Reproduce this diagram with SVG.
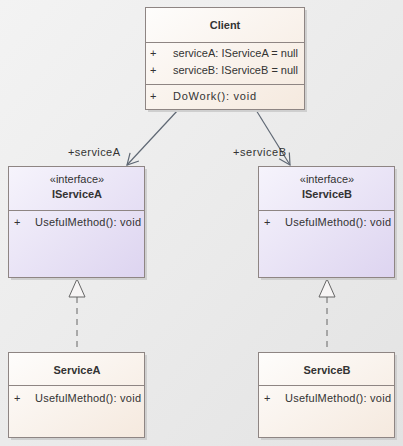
<svg xmlns="http://www.w3.org/2000/svg" width="403" height="446" viewBox="0 0 403 446">
<defs>
<linearGradient id="bg" x1="0" y1="0" x2="1" y2="1">
<stop offset="0" stop-color="#f3f3f3"/><stop offset="1" stop-color="#e3e3e3"/>
</linearGradient>
<linearGradient id="cls" x1="0" y1="0" x2="1" y2="1">
<stop offset="0" stop-color="#fefdfc"/><stop offset="1" stop-color="#f5e9de"/>
</linearGradient>
<linearGradient id="ifc" x1="0" y1="0" x2="1" y2="1">
<stop offset="0" stop-color="#f6f4fc"/><stop offset="1" stop-color="#ddd4f0"/>
</linearGradient>
<marker id="open" markerWidth="14" markerHeight="14" refX="12" refY="7" orient="auto" markerUnits="userSpaceOnUse">
<path d="M1,1 L12,7 L1,13" fill="none" stroke="#5f6874" stroke-width="1.2"/>
</marker>
</defs>
<style>
.box{stroke:#8e8583;stroke-width:1}
.sh{fill:#cfcfcf}
.div{stroke:#8e8583;stroke-width:1}
text{font-family:"Liberation Sans",Arial,sans-serif;font-size:11px;fill:#333}
.b{font-weight:bold;text-anchor:middle}
.c{text-anchor:middle}
.con{stroke:#5f6874;stroke-width:1.2;fill:none}
</style>
<rect width="403" height="446" fill="url(#bg)"/>
<g id="connectors">
<line class="con" x1="178" y1="110" x2="127" y2="165" marker-end="url(#open)"/>
<line class="con" x1="256" y1="110" x2="290" y2="165" marker-end="url(#open)"/>
<text x="68" y="156" textLength="52">+serviceA</text>
<text x="233" y="156" textLength="53">+serviceB</text>
<line x1="77" y1="297" x2="77" y2="352" stroke="#666" stroke-width="1" stroke-dasharray="6,5"/>
<polygon points="77,279 69,297 85,297" fill="#f7f5f5" stroke="#666" stroke-width="1"/>
<line x1="327" y1="297" x2="327" y2="352" stroke="#666" stroke-width="1" stroke-dasharray="6,5"/>
<polygon points="327,279 319,297 335,297" fill="#f7f5f5" stroke="#666" stroke-width="1"/>
</g>
<g id="Client">
<rect class="sh" x="148" y="10" width="159" height="102"/>
<rect class="box" x="145.5" y="7.5" width="159" height="102" fill="url(#cls)"/>
<line class="div" x1="145.5" y1="42.5" x2="304.5" y2="42.5"/>
<line class="div" x1="145.5" y1="84.5" x2="304.5" y2="84.5"/>
<text class="b" x="225" y="29">Client</text>
<text x="150" y="57">+</text><text x="173" y="57" textLength="125">serviceA: IServiceA = null</text>
<text x="150" y="74">+</text><text x="173" y="74" textLength="125">serviceB: IServiceB = null</text>
<text x="150" y="100">+</text><text x="173" y="100" textLength="83">DoWork(): void</text>
</g>
<g id="IServiceA">
<rect class="sh" x="11" y="169" width="136" height="111"/>
<rect class="box" x="8.5" y="166.5" width="136" height="111" fill="url(#ifc)"/>
<line class="div" x1="8.5" y1="210.5" x2="144.5" y2="210.5"/>
<text class="c" x="77" y="183">«interface»</text>
<text class="b" x="77" y="198">IServiceA</text>
<text x="14" y="226">+</text><text x="35" y="226" textLength="106">UsefulMethod(): void</text>
</g>
<g id="IServiceB">
<rect class="sh" x="261" y="169" width="136" height="111"/>
<rect class="box" x="258.5" y="166.5" width="136" height="111" fill="url(#ifc)"/>
<line class="div" x1="258.5" y1="210.5" x2="394.5" y2="210.5"/>
<text class="c" x="327" y="183">«interface»</text>
<text class="b" x="327" y="198">IServiceB</text>
<text x="264" y="226">+</text><text x="285" y="226" textLength="106">UsefulMethod(): void</text>
</g>
<g id="ServiceA">
<rect class="sh" x="11" y="355" width="136" height="85"/>
<rect class="box" x="8.5" y="352.5" width="136" height="85" fill="url(#cls)"/>
<line class="div" x1="8.5" y1="385.5" x2="144.5" y2="385.5"/>
<text class="b" x="77" y="374">ServiceA</text>
<text x="14" y="402">+</text><text x="35" y="402" textLength="106">UsefulMethod(): void</text>
</g>
<g id="ServiceB">
<rect class="sh" x="261" y="355" width="136" height="85"/>
<rect class="box" x="258.5" y="352.5" width="136" height="85" fill="url(#cls)"/>
<line class="div" x1="258.5" y1="385.5" x2="394.5" y2="385.5"/>
<text class="b" x="327" y="374">ServiceB</text>
<text x="264" y="402">+</text><text x="285" y="402" textLength="106">UsefulMethod(): void</text>
</g>
</svg>
